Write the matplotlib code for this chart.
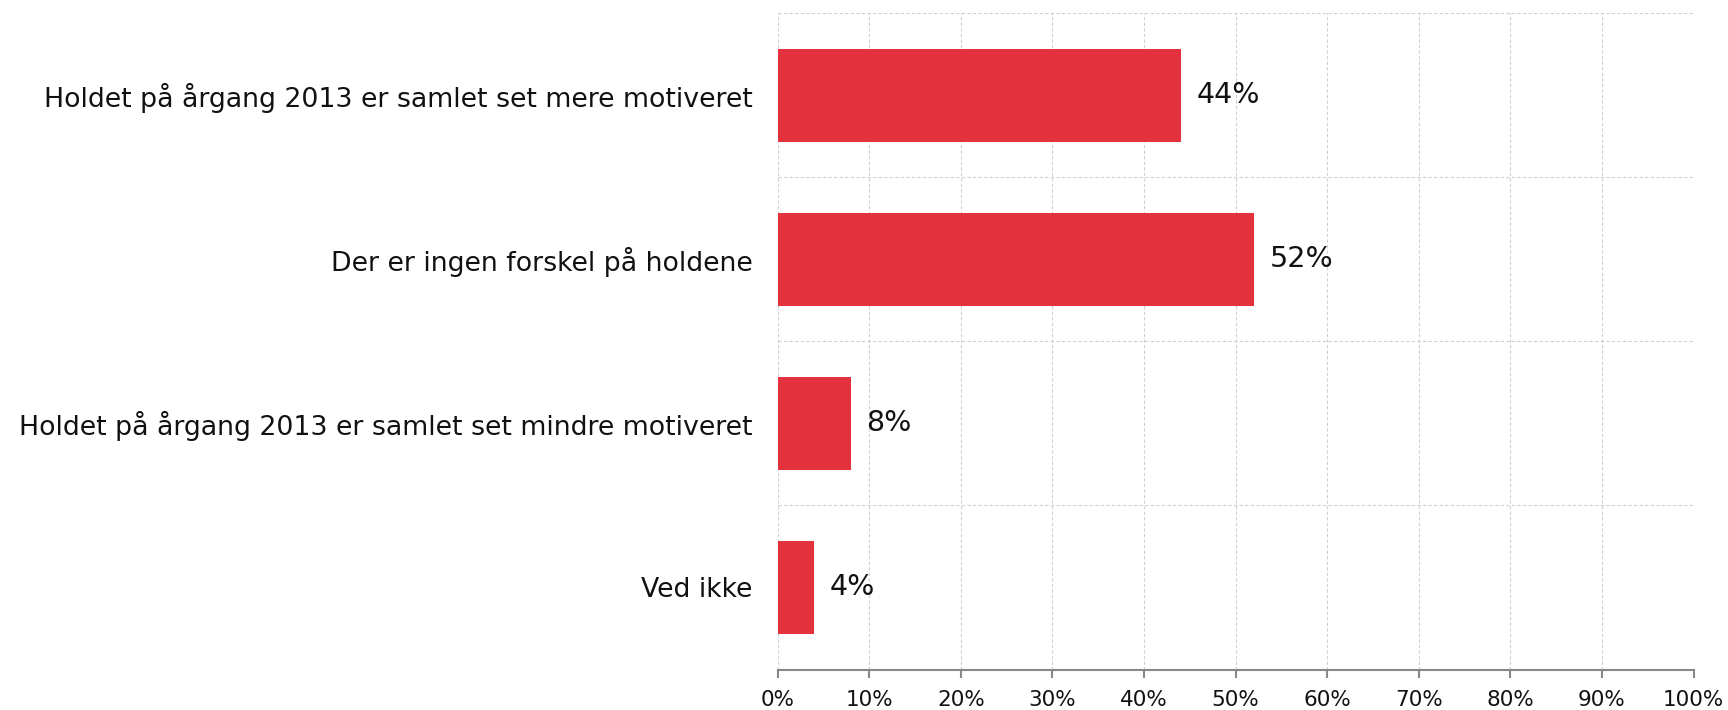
import matplotlib
matplotlib.use("Agg")
import matplotlib.pyplot as plt
from matplotlib.ticker import FixedLocator

categories = [
    "Holdet på årgang 2013 er samlet set mere motiveret",
    "Der er ingen forskel på holdene",
    "Holdet på årgang 2013 er samlet set mindre motiveret",
    "Ved ikke",
]
values = [44, 52, 8, 4]
xticks = [0, 10, 20, 30, 40, 50, 60, 70, 80, 90, 100]
xticklabels = [f"{v}%" for v in xticks]

plt.rcParams['font.family'] = ['DejaVu Sans']

fig = plt.figure(figsize=(17.28, 7.10), dpi=100)
W, H = 1728, 710
left, right, top, bottom = 777.7, 1693.5, 13.3, 669.5
ax = fig.add_axes([left / W, 1 - bottom / H, (right - left) / W, (bottom - top) / H])

n = len(categories)
ypos = list(range(n))
ax.barh(ypos, values, height=0.57, color="#e3313e", zorder=3)
ax.set_ylim(n - 0.5, -0.5)
ax.set_xlim(0, 100)

for y, v in zip(ypos, values):
    ax.text(v + 1.7, y, f"{v}%", va="center", ha="left", fontsize=20.5, color="#111111")

ax.set_yticks(ypos)
ax.set_yticklabels(categories, fontsize=19.3, color="#111111")
ax.tick_params(axis="y", length=0, pad=18)
ax.yaxis.set_minor_locator(FixedLocator([i - 0.5 for i in range(n + 1)]))
ax.tick_params(axis="y", which="minor", length=0)

ax.set_xticks(xticks)
ax.set_xticklabels(xticklabels, fontsize=15.5, color="#111111")
ax.tick_params(axis="x", length=6, width=1.5, color="#888888", pad=9)

ax.grid(axis="x", which="major", linestyle=(0, (3, 2)), color="#d0d0d0", linewidth=0.8, zorder=0)
ax.grid(axis="y", which="minor", linestyle=(0, (3, 2)), color="#d0d0d0", linewidth=0.8, zorder=0)
ax.grid(axis="y", which="major", visible=False)

for s in ["top", "right", "left"]:
    ax.spines[s].set_visible(False)
ax.spines["bottom"].set_color("#888888")
ax.spines["bottom"].set_linewidth(1.5)
ax.spines["bottom"].set_zorder(4)

fig.savefig("out.png", dpi=100, facecolor="white")
